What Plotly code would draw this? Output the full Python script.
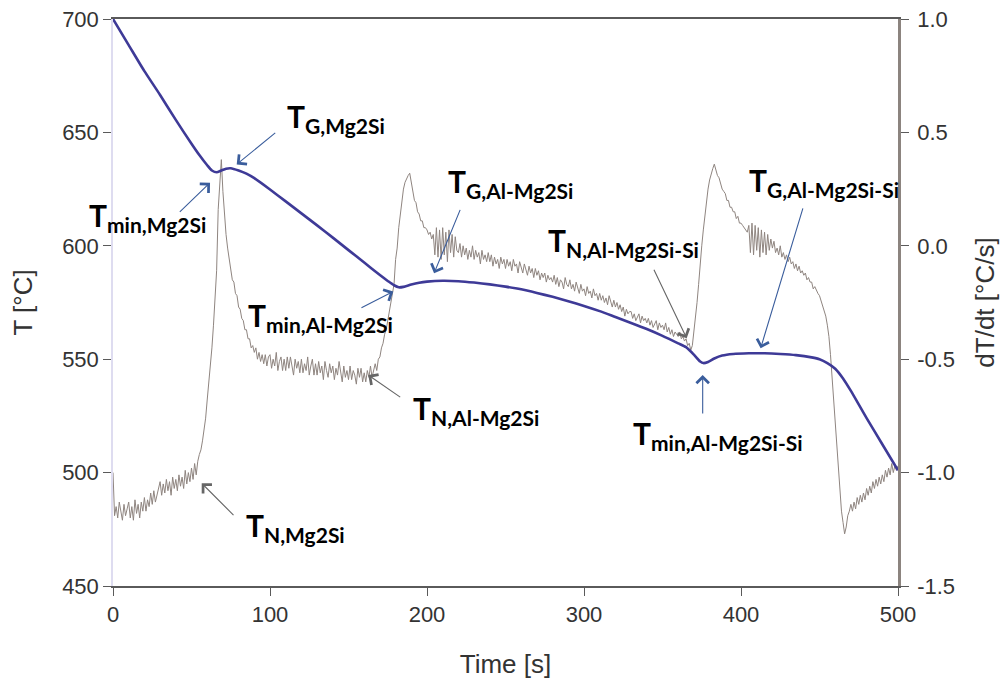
import plotly.graph_objects as go

# ---------------- data ----------------
time_s = list(range(0, 501))

# cooling-rate curve dT/dt [°C/s], one reading per second (t = 0 ... 500)
dTdt = [
    -1.00, -1.19, -1.15, -1.20, -1.13, -1.18, -1.21, -1.14, -1.19, -1.16,
    -1.13, -1.20, -1.15, -1.21, -1.12, -1.18, -1.14, -1.20, -1.13, -1.17,
    -1.11, -1.17, -1.12, -1.15, -1.09, -1.14, -1.08, -1.13, -1.10, -1.06,
    -1.04, -1.10, -1.05, -1.09, -1.03, -1.08, -1.04, -1.10, -1.02, -1.07,
    -1.03, -1.08, -1.01, -1.06, -1.02, -1.07, -0.99, -1.05, -1.00, -1.04,
    -0.98, -1.03, -0.96, -1.01, -0.95, -0.92, -0.90, -0.86, -0.81, -0.76,
    -0.68, -0.61, -0.54, -0.45, -0.35, -0.24, -0.11, 0.16, 0.30, 0.38,
    0.24, 0.12, 0.05, -0.01, -0.06, -0.10, -0.15, -0.16, -0.21, -0.22,
    -0.27, -0.28, -0.32, -0.33, -0.37, -0.37, -0.41, -0.41, -0.45, -0.44,
    -0.47, -0.45, -0.50, -0.47, -0.51, -0.48, -0.52, -0.48, -0.53, -0.49,
    -0.48, -0.54, -0.50, -0.53, -0.47, -0.55, -0.51, -0.49, -0.55, -0.50,
    -0.55, -0.49, -0.54, -0.49, -0.53, -0.57, -0.50, -0.54, -0.51, -0.56,
    -0.50, -0.56, -0.52, -0.55, -0.49, -0.57, -0.53, -0.50, -0.57, -0.52,
    -0.57, -0.51, -0.56, -0.53, -0.59, -0.51, -0.55, -0.58, -0.52, -0.56,
    -0.53, -0.59, -0.54, -0.57, -0.51, -0.56, -0.60, -0.53, -0.58, -0.55,
    -0.59, -0.53, -0.59, -0.55, -0.57, -0.61, -0.54, -0.58, -0.54, -0.60,
    -0.56, -0.60, -0.55, -0.58, -0.53, -0.58, -0.55, -0.52, -0.55, -0.50,
    -0.49, -0.45, -0.43, -0.39, -0.37, -0.33, -0.29, -0.25, -0.22, -0.17,
    -0.06, -0.01, 0.08, 0.14, 0.20, 0.25, 0.28, 0.30, 0.31, 0.32,
    0.28, 0.25, 0.20, 0.19, 0.15, 0.14, 0.11, 0.11, 0.08, 0.08,
    0.07, 0.05, 0.06, 0.03, 0.05, -0.04, 0.08, -0.05, 0.07, -0.06,
    0.08, -0.04, 0.06, -0.07, 0.07, -0.03, 0.05, -0.05, 0.04, -0.02,
    -0.03, 0.01, -0.05, 0.00, -0.04, -0.01, -0.06, -0.02, -0.05, 0.00,
    -0.06, -0.02, -0.05, -0.03, -0.08, -0.02, -0.06, -0.04, -0.07, -0.03,
    -0.07, -0.04, -0.09, -0.05, -0.08, -0.06, -0.10, -0.05, -0.08, -0.06,
    -0.10, -0.06, -0.09, -0.07, -0.11, -0.06, -0.09, -0.08, -0.12, -0.07,
    -0.09, -0.12, -0.08, -0.11, -0.13, -0.09, -0.12, -0.10, -0.14, -0.10,
    -0.13, -0.11, -0.15, -0.12, -0.14, -0.12, -0.16, -0.13, -0.15, -0.14,
    -0.16, -0.13, -0.17, -0.14, -0.18, -0.15, -0.16, -0.19, -0.14, -0.17,
    -0.18, -0.15, -0.19, -0.17, -0.20, -0.16, -0.19, -0.21, -0.17, -0.20,
    -0.19, -0.22, -0.18, -0.21, -0.20, -0.23, -0.19, -0.22, -0.21, -0.24,
    -0.21, -0.24, -0.22, -0.25, -0.23, -0.26, -0.22, -0.25, -0.27, -0.24,
    -0.27, -0.25, -0.28, -0.26, -0.29, -0.27, -0.31, -0.28, -0.30, -0.29,
    -0.29, -0.32, -0.30, -0.33, -0.31, -0.30, -0.34, -0.31, -0.33, -0.32,
    -0.34, -0.32, -0.35, -0.33, -0.36, -0.34, -0.33, -0.37, -0.34, -0.36,
    -0.35, -0.37, -0.34, -0.38, -0.36, -0.39, -0.37, -0.40, -0.38, -0.39,
    -0.40, -0.38, -0.41, -0.40, -0.42, -0.41, -0.44, -0.43, -0.46, -0.44,
    -0.38, -0.32, -0.25, -0.17, -0.07, 0.00, 0.07, 0.14, 0.20, 0.25,
    0.29, 0.32, 0.34, 0.36, 0.33, 0.31, 0.30, 0.27, 0.25, 0.24,
    0.23, 0.20, 0.20, 0.17, 0.17, 0.15, 0.15, 0.12, 0.13, 0.10,
    0.10, 0.09, 0.08, 0.07, 0.06, 0.09, -0.03, 0.10, -0.04, 0.09,
    -0.02, 0.08, -0.05, 0.07, -0.03, 0.06, -0.04, 0.05, -0.02, 0.03,
    -0.01, 0.02, -0.03, -0.01, -0.04, 0.00, -0.05, -0.03, -0.06, -0.04,
    -0.07, -0.05, -0.08, -0.07, -0.10, -0.08, -0.11, -0.09, -0.12, -0.11,
    -0.13, -0.12, -0.15, -0.14, -0.16, -0.16, -0.19, -0.18, -0.20, -0.21,
    -0.22, -0.24, -0.26, -0.29, -0.31, -0.35, -0.40, -0.48, -0.58, -0.70,
    -0.80, -0.90, -1.00, -1.10, -1.17, -1.22, -1.27, -1.24, -1.19, -1.17,
    -1.14, -1.17, -1.13, -1.16, -1.11, -1.14, -1.10, -1.13, -1.09, -1.12,
    -1.07, -1.10, -1.06, -1.09, -1.04, -1.07, -1.03, -1.06, -1.02, -1.05,
    -1.01, -1.04, -0.99, -1.02, -0.98, -1.01, -0.96, -1.00, -0.97, -0.99,
    -0.97,
]

# cooling curve T [°C]
T_time = [0, 10, 20, 30, 40, 50, 55, 60, 63, 66, 69, 72, 75, 80, 85, 90,
          100, 110, 120, 130, 140, 150, 160, 170, 175, 179, 182, 185, 190,
          195, 200, 210, 220, 230, 240, 250, 260, 270, 280, 290, 300, 310,
          320, 330, 340, 350, 360, 365, 370, 374, 376, 379, 383, 388, 395,
          405, 415, 425, 435, 445, 450, 455, 460, 465, 470, 480, 490, 500]
T_vals = [700, 688.5, 677, 666.5, 655.5, 645, 640, 635.5, 633.2, 632.4,
          633.2, 634, 634.2, 633.2, 631.8, 629.8,
          624.8, 619.6, 614.3, 609, 603.6, 598.1, 592.6, 587.1, 584.5, 582.6,
          581.7, 581.9, 582.9,
          583.7, 584.2, 584.6, 584.4, 583.8, 583, 582, 580.8, 579.2, 577.5,
          575.6, 573.5, 571.2,
          568.6, 566, 563.3, 560.3, 557, 555.3, 552, 549, 548.3, 548.8, 550.3,
          551.6, 552.3,
          552.6, 552.6, 552.3, 551.8, 550.8, 550, 548.3, 545.8, 541.5, 536,
          524, 512.5, 501]

x_ticks = [0, 100, 200, 300, 400, 500]
T_ticks = [450, 500, 550, 600, 650, 700]
rate_ticks = [-1.5, -1.0, -0.5, 0.0, 0.5, 1.0]
rate_ticktext = ["-1.5", "-1.0", "-0.5", "0.0", "0.5", "1.0"]

# label text: (main letter, subscript)
labels = [
    ("T", "G,Mg2Si"),
    ("T", "min,Mg2Si"),
    ("T", "G,Al-Mg2Si"),
    ("T", "N,Al-Mg2Si-Si"),
    ("T", "min,Al-Mg2Si"),
    ("T", "N,Al-Mg2Si"),
    ("T", "min,Al-Mg2Si-Si"),
    ("T", "G,Al-Mg2Si-Si"),
    ("T", "N,Mg2Si"),
]

# ---------------- figure ----------------
W, H = 1008, 684
ML, MR, MT, MB = 113, 110, 19, 98
PW, PH = W - ML - MR, H - MT - MB

AX_FONT = "Liberation Sans, Arial, sans-serif"
LBL_FONT = "Lato, Noto Sans, sans-serif"

fig = go.Figure()
fig.add_trace(go.Scatter(
    x=time_s, y=dTdt, yaxis="y", mode="lines",
    line=dict(color="#8f8580", width=1), showlegend=False, hoverinfo="skip"))
fig.add_trace(go.Scatter(
    x=T_time, y=T_vals, yaxis="y2", mode="lines",
    line=dict(color="#3e3a97", width=2.6, shape="spline", smoothing=0.6),
    showlegend=False, hoverinfo="skip"))

# label positions in pixels: (left edge, baseline)
label_px = [(285.0, 128.3), (87.0, 226.7), (445.5, 193.3), (545.5, 251.7),
            (245.5, 326.7), (410.5, 420.0), (630.5, 445.0), (747.0, 191.7),
            (244.0, 536.7)]

annotations = []
for (big, sub), (px, py) in zip(labels, label_px):
    annotations.append(dict(
        xref="paper", yref="paper",
        x=(px - ML) / PW, y=(MT + PH - py) / PH,
        xanchor="left", yanchor="middle", yshift=10,
        text=f"<b>{big}</b><sub><b>{sub}</b></sub>",
        showarrow=False,
        font=dict(family=LBL_FONT, size=30, color="#000000")))

# arrows: (tail t, tail T, tip t, tip T, colour)
BLUE = "#3a5d9c"
GREY = "#666666"
arrows = [
    (104.3, 650.3, 78.8, 635.9, BLUE),
    (41.6, 614.3, 61.8, 627.8, BLUE),
    (221.5, 616.5, 204.5, 587.9, BLUE),
    (344.1, 590.1, 365.4, 559.2, GREY),
    (157.3, 572.4, 178.5, 579.8, BLUE),
    (183.9, 532.8, 162.6, 543.0, GREY),
    (375.6, 525.4, 375.6, 543.0, BLUE),
    (439.7, 617.2, 412.5, 554.8, BLUE),
    (77.7, 480.6, 56.5, 495.3, GREY),
]
for ax_, ay_, x_, y_, col in arrows:
    annotations.append(dict(
        xref="x", yref="y2", axref="x", ayref="y2",
        x=x_, y=y_, ax=ax_, ay=ay_, text="",
        showarrow=True, arrowhead=4, arrowsize=2.2, arrowwidth=1.1,
        arrowcolor=col, standoff=0, startstandoff=0))

fig.update_layout(
    width=W, height=H,
    margin=dict(l=ML, r=MR, t=MT, b=MB, autoexpand=False),
    paper_bgcolor="white", plot_bgcolor="white",
    showlegend=False,
    xaxis=dict(
        range=[0, 500], tickvals=x_ticks, showgrid=False, zeroline=False,
        showline=True, linecolor="#5a5a5a", linewidth=1.5, mirror=True,
        ticks="outside", ticklen=8, tickcolor="#5a5a5a", tickwidth=1.2,
        tickfont=dict(family=AX_FONT, size=22, color="#333333"),
        title=dict(text="Time [s]", font=dict(family=AX_FONT, size=26, color="#333333"),
                   standoff=29),
        automargin=False),
    yaxis=dict(
        side="right", range=[-1.5, 1.0], tickvals=rate_ticks, ticktext=rate_ticktext,
        showgrid=False, zeroline=False,
        showline=True, linecolor="#8c847f", linewidth=2.5,
        ticks="outside", ticklen=8, tickcolor="#5a5a5a", tickwidth=1.2,
        ticklabelstandoff=4,
        tickfont=dict(family=AX_FONT, size=22, color="#333333"),
        title=dict(text="dT/dt [°C/s]", font=dict(family=AX_FONT, size=26, color="#333333"),
                   standoff=22),
        automargin=False),
    yaxis2=dict(
        side="left", overlaying="y", range=[450, 700], tickvals=T_ticks,
        showgrid=False, zeroline=False,
        showline=True, linecolor="#dedcf0", linewidth=1.5,
        ticks="outside", ticklen=8, tickcolor="#5a5a5a", tickwidth=1.2,
        tickfont=dict(family=AX_FONT, size=22, color="#333333"),
        title=dict(text="T [°C]", font=dict(family=AX_FONT, size=26, color="#333333"),
                   standoff=22),
        automargin=False),
    annotations=annotations,
)

fig.write_html("out.html", config={"displayModeBar": False})
